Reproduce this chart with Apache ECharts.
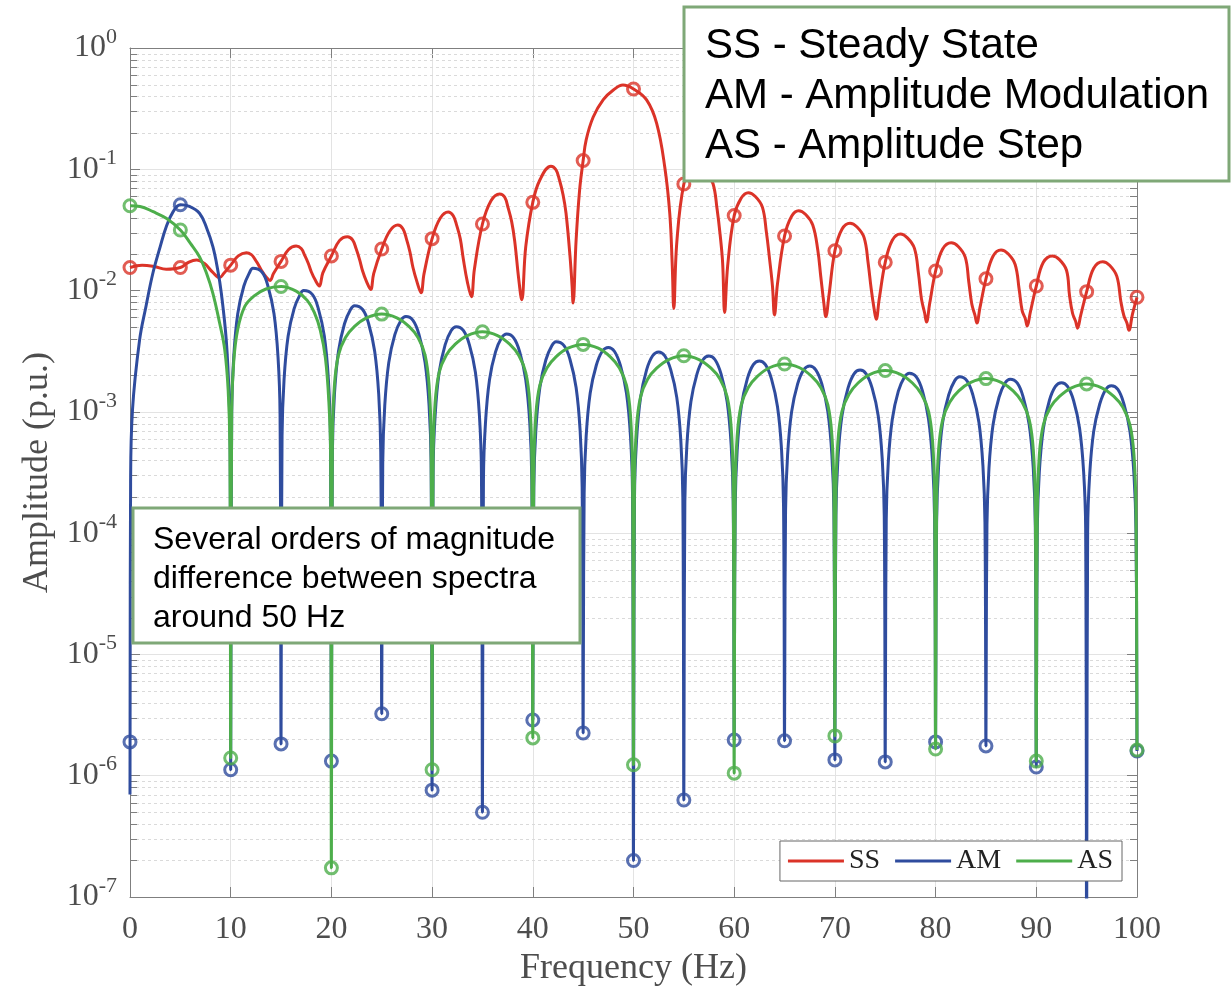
<!DOCTYPE html>
<html>
<head>
<meta charset="utf-8">
<script src="https://cdn.jsdelivr.net/npm/echarts@6.0.0/dist/echarts.min.js"></script>
<style>
  html, body { margin: 0; padding: 0; background: #fff; }
  #chart { width: 1231px; height: 986px; }
</style>
</head>
<body>
<div id="chart"></div>
<script>
// spectra: [frequency Hz, amplitude p.u.]
const ssLine = [
  [0,0.0155],[1.2,0.0162],[2.4,0.0158],[3.6,0.0150],[5,0.0155],[5.8,0.0171],[6.6,0.0179],[7.4,0.0167],[8.2,0.0142],[8.9,0.0128],
  [9.3,0.0138],[10,0.0162],[10.75,0.0193],[11.55,0.0205],[12.05,0.0198],[12.4,0.0182],[12.75,0.0163],[13.1,0.0145],[13.5,0.0130],[13.9,0.0121],
  [14.25,0.0138],[15,0.0174],[15.75,0.0218],[16.5,0.0233],[17.0,0.0222],[17.35,0.0195],[17.7,0.0168],[18.0,0.0143],[18.4,0.0122],[18.8,0.0109],
  [19.15,0.0140],[20,0.0193],[20.8,0.0258],[21.6,0.0278],[22.1,0.0262],[22.45,0.0222],[22.8,0.0180],[23.1,0.0145],[23.5,0.0118],[23.9,0.0102],
  [24.2,0.0138],[25,0.0220],[25.8,0.0310],[26.6,0.0347],[27.1,0.0323],[27.45,0.0267],[27.8,0.0208],[28.1,0.0155],[28.5,0.0118],[28.9,0.0096],
  [29.2,0.0138],[30,0.0268],[30.8,0.0395],[31.6,0.0445],[32.1,0.0414],[32.45,0.0343],[32.8,0.0267],[33.1,0.0182],[33.5,0.0118],[33.9,0.0089],
  [34.2,0.0150],[35,0.0354],[35.85,0.0550],[36.7,0.0626],[37.2,0.0590],[37.55,0.0480],[37.9,0.0370],[38.2,0.0257],[38.6,0.0125],[38.9,0.0084],
  [39.3,0.0230],[40,0.0534],[40.7,0.0816],[41.8,0.106],[42.3,0.099],[42.65,0.0816],[43.0,0.062],[43.3,0.0434],[43.7,0.0190],[43.9,0.0110],[44,0.0079],
  [44.3,0.026],[44.65,0.0675],[45,0.118],[45.3,0.175],[46,0.27],[47,0.375],[48,0.45],[48.95,0.495],[50,0.459],[51.3,0.373],[52.3,0.239],[53.1,0.105],[53.6,0.0434],[53.85,0.0160],[54,0.0071],
  [54.3,0.025],[55,0.0757],[55.7,0.095],[56.6,0.100],[57.25,0.093],[57.9,0.076],[58.3,0.047],[58.6,0.029],[58.85,0.017],[59.05,0.0066],
  [59.35,0.016],[60,0.0415],[60.7,0.058],[61.4,0.0642],[62.1,0.0597],[62.8,0.0488],[63.2,0.0302],[63.5,0.0186],[63.8,0.0109],[64,0.0063],
  [64.3,0.0114],[65,0.0282],[65.7,0.041],[66.4,0.0456],[67.1,0.0424],[67.8,0.0347],[68.3,0.0216],[68.6,0.013],[68.9,0.0079],[69.1,0.0061],
  [69.4,0.009],[70,0.0213],[70.7,0.032],[71.5,0.0359],[72.2,0.0334],[72.9,0.0273],[73.3,0.0169],[73.6,0.0104],[73.9,0.0070],[74.1,0.0058],
  [74.4,0.0085],[75,0.0171],[75.7,0.026],[76.5,0.0293],[77.2,0.0272],[77.9,0.0223],[78.3,0.0138],[78.6,0.0085],[78.9,0.0066],[79.1,0.0055],
  [79.4,0.0077],[80,0.0145],[80.7,0.022],[81.55,0.0248],[82.25,0.0231],[82.95,0.0188],[83.3,0.0117],[83.6,0.0077],[83.9,0.0063],[84.1,0.0054],
  [84.4,0.0072],[85,0.0125],[85.7,0.0192],[86.5,0.0216],[87.2,0.0201],[87.9,0.0164],[88.3,0.0102],[88.6,0.0068],[88.9,0.0059],[89.1,0.0051],
  [89.4,0.0066],[90,0.0109],[90.7,0.0171],[91.6,0.0193],[92.3,0.018],[93.0,0.0147],[93.3,0.0091],[93.6,0.0065],[93.9,0.0056],[94.1,0.0049],
  [94.4,0.0062],[95,0.0098],[95.7,0.0153],[96.6,0.0173],[97.3,0.0161],[98.0,0.0131],[98.4,0.0081],[98.7,0.0062],[99.0,0.0054],[99.2,0.0047],
  [99.55,0.0064],[100,0.0088]
];

const amLine = [
  [0,7e-7],[0.06,2.6e-4],[0.25,1.05e-3],[0.95,3.9e-3],[1.6,7.5e-3],[2.27,0.0139],[3,0.023],[3.6,0.0336],[4.3,0.045],[5,0.051],[5.9,0.0495],[6.9,0.0434],[7.6,0.033],[8.23,0.023],[8.7,0.015],[9.07,0.0095],[9.56,0.0039],[9.85,1.3e-3],[9.95,4.5e-4],
  [10,1.12e-6],[10.1,9.6e-4],[10.3,2.83e-3],[10.7,6.43e-3],[11.3,0.01086],[11.9,0.01423],[12.2,0.0153],[13.1,0.01423],[13.7,0.01086],[14.3,6.43e-3],[14.7,2.83e-3],[14.9,9.6e-4],
  [15,1.83e-6],[15.1,6.3e-4],[15.3,1.85e-3],[15.7,4.2e-3],[16.3,7.1e-3],[16.9,9.3e-3],[17.24,0.01],[18.1,9.3e-3],[18.7,7.1e-3],[19.3,4.2e-3],[19.7,1.85e-3],[19.9,6.3e-4],
  [20,1.32e-6],[20.1,4.7e-4],[20.3,1.39e-3],[20.7,3.15e-3],[21.3,5.33e-3],[21.9,6.98e-3],[22.3,7.5e-3],[23.1,6.98e-3],[23.7,5.33e-3],[24.3,3.15e-3],[24.7,1.39e-3],[24.9,4.7e-4],
  [25,3.24e-6],[25.1,3.84e-4],[25.3,1.13e-3],[25.7,2.56e-3],[26.3,4.33e-3],[26.9,5.67e-3],[27.4,6.1e-3],[28.1,5.67e-3],[28.7,4.33e-3],[29.3,2.56e-3],[29.7,1.13e-3],[29.9,3.84e-4],
  [30,7.6e-7],[30.1,3.18e-4],[30.3,9.3e-4],[30.7,2.12e-3],[31.3,3.58e-3],[31.9,4.69e-3],[32.4,5.04e-3],[33.1,4.69e-3],[33.7,3.58e-3],[34.3,2.12e-3],[34.7,9.3e-4],[34.9,3.18e-4],
  [35,5e-7],[35.1,2.77e-4],[35.3,8.1e-4],[35.7,1.84e-3],[36.3,3.12e-3],[36.9,4.08e-3],[37.4,4.39e-3],[38.1,4.08e-3],[38.7,3.12e-3],[39.3,1.84e-3],[39.7,8.1e-4],[39.9,2.77e-4],
  [40,2.88e-6],[40.1,2.39e-4],[40.3,7e-4],[40.7,1.59e-3],[41.3,2.69e-3],[41.9,3.52e-3],[42.3,3.79e-3],[43.1,3.52e-3],[43.7,2.69e-3],[44.3,1.59e-3],[44.7,7e-4],[44.9,2.39e-4],
  [45,2.25e-6],[45.1,2.14e-4],[45.3,6.3e-4],[45.7,1.43e-3],[46.3,2.41e-3],[46.9,3.16e-3],[47.5,3.4e-3],[48.1,3.16e-3],[48.7,2.41e-3],[49.3,1.43e-3],[49.7,6.3e-4],[49.9,2.14e-4],
  [50,2e-7],[50.1,1.97e-4],[50.3,5.8e-4],[50.7,1.31e-3],[51.3,2.22e-3],[51.9,2.9e-3],[52.5,3.12e-3],[53.1,2.9e-3],[53.7,2.22e-3],[54.3,1.31e-3],[54.7,5.8e-4],[54.9,1.97e-4],
  [55,6.3e-7],[55.1,1.82e-4],[55.3,5.3e-4],[55.7,1.21e-3],[56.3,2.05e-3],[56.9,2.69e-3],[57.5,2.89e-3],[58.1,2.69e-3],[58.7,2.05e-3],[59.3,1.21e-3],[59.7,5.3e-4],[59.9,1.82e-4],
  [60,1.97e-6],[60.1,1.66e-4],[60.3,4.9e-4],[60.7,1.1e-3],[61.3,1.87e-3],[61.9,2.45e-3],[62.5,2.63e-3],[63.1,2.45e-3],[63.7,1.87e-3],[64.3,1.1e-3],[64.7,4.9e-4],[64.9,1.66e-4],
  [65,1.94e-6],[65.1,1.51e-4],[65.3,4.4e-4],[65.7,1e-3],[66.3,1.7e-3],[66.9,2.22e-3],[67.5,2.39e-3],[68.1,2.22e-3],[68.7,1.7e-3],[69.3,1e-3],[69.7,4.4e-4],[69.9,1.51e-4],
  [70,1.35e-6],[70.1,1.39e-4],[70.3,4.1e-4],[70.7,9.3e-4],[71.3,1.57e-3],[71.9,2.06e-3],[72.5,2.21e-3],[73.1,2.06e-3],[73.7,1.57e-3],[74.3,9.3e-4],[74.7,4.1e-4],[74.9,1.39e-4],
  [75,1.3e-6],[75.1,1.31e-4],[75.3,3.85e-4],[75.7,8.7e-4],[76.3,1.48e-3],[76.9,1.93e-3],[77.4,2.08e-3],[78.1,1.93e-3],[78.7,1.48e-3],[79.3,8.7e-4],[79.7,3.85e-4],[79.9,1.31e-4],
  [80,1.9e-6],[80.1,1.23e-4],[80.3,3.6e-4],[80.7,8.2e-4],[81.3,1.38e-3],[81.9,1.81e-3],[82.4,1.95e-3],[83.1,1.81e-3],[83.7,1.38e-3],[84.3,8.2e-4],[84.7,3.6e-4],[84.9,1.23e-4],
  [85,1.76e-6],[85.1,1.17e-4],[85.3,3.44e-4],[85.7,7.8e-4],[86.3,1.32e-3],[86.9,1.73e-3],[87.4,1.86e-3],[88.1,1.73e-3],[88.7,1.32e-3],[89.3,7.8e-4],[89.7,3.44e-4],[89.9,1.17e-4],
  [90,1.18e-6],[90.1,1.1e-4],[90.3,3.2e-4],[90.7,7.3e-4],[91.3,1.24e-3],[91.9,1.62e-3],[92.5,1.74e-3],[93.1,1.62e-3],[93.7,1.24e-3],[94.3,7.3e-4],[94.7,3.2e-4],[94.9,1.1e-4],
  [95,3e-8],[95.1,1.03e-4],[95.3,3.03e-4],[95.7,6.9e-4],[96.3,1.16e-3],[96.9,1.53e-3],[97.45,1.64e-3],[98.1,1.53e-3],[98.7,1.16e-3],[99.3,6.9e-4],[99.7,3.03e-4],[99.9,1.03e-4],
  [100,1.6e-6]
];

const asLine = [
  [0,0.05],[1,0.0493],[2.3,0.0447],[3.6,0.0394],[5,0.0316],[6,0.0245],[6.9,0.019],[7.6,0.0139],[8.23,0.0095],[8.9,0.0054],[9.4,0.0033],[9.75,0.0015],[9.92,5e-4],
  [10,1.4e-6],[10.1,1e-3],[10.3,2.6e-3],[10.7,4.8e-3],[11.4,7.4e-3],[12.3,9e-3],[13.5,0.0103],[15,0.0108],[16.5,0.0099],[17.6,0.0083],[18.3,0.0066],[18.9,0.0047],[19.4,0.0028],[19.75,1.2e-3],[19.92,4.5e-4],
  [20,1.74e-7],[20.1,5.8e-4],[20.3,1.66e-3],[20.7,2.94e-3],[21.4,4.1e-3],[22.3,5.06e-3],[23.5,5.95e-3],[25,6.4e-3],[26.5,5.95e-3],[27.7,5.06e-3],[28.6,4.1e-3],[29.3,2.94e-3],[29.7,1.66e-3],[29.9,5.8e-4],
  [30,1.12e-6],[30.1,4.1e-4],[30.3,1.19e-3],[30.7,2.11e-3],[31.4,2.93e-3],[32.3,3.62e-3],[33.5,4.26e-3],[35,4.58e-3],[36.5,4.26e-3],[37.7,3.62e-3],[38.6,2.93e-3],[39.3,2.11e-3],[39.7,1.19e-3],[39.9,4.1e-4],
  [40,2.05e-6],[40.1,3.2e-4],[40.3,9.4e-4],[40.7,1.66e-3],[41.4,2.3e-3],[42.3,2.84e-3],[43.5,3.35e-3],[45,3.6e-3],[46.5,3.35e-3],[47.7,2.84e-3],[48.6,2.3e-3],[49.3,1.66e-3],[49.7,9.4e-4],[49.9,3.2e-4],
  [50,1.23e-6],[50.1,2.6e-4],[50.3,7.5e-4],[50.7,1.33e-3],[51.4,1.86e-3],[52.3,2.29e-3],[53.5,2.7e-3],[55,2.9e-3],[56.5,2.7e-3],[57.7,2.29e-3],[58.6,1.86e-3],[59.3,1.33e-3],[59.7,7.5e-4],[59.9,2.6e-4],
  [60,1.05e-6],[60.1,2.2e-4],[60.3,6.4e-4],[60.7,1.14e-3],[61.4,1.59e-3],[62.3,1.96e-3],[63.5,2.31e-3],[65,2.48e-3],[66.5,2.31e-3],[67.7,1.96e-3],[68.6,1.59e-3],[69.3,1.14e-3],[69.7,6.4e-4],[69.9,2.2e-4],
  [70,2.13e-6],[70.1,2e-4],[70.3,5.7e-4],[70.7,1.01e-3],[71.4,1.4e-3],[72.3,1.73e-3],[73.5,2.04e-3],[75,2.19e-3],[76.5,2.04e-3],[77.7,1.73e-3],[78.6,1.4e-3],[79.3,1.01e-3],[79.7,5.7e-4],[79.9,2e-4],
  [80,1.66e-6],[80.1,1.7e-4],[80.3,4.9e-4],[80.7,8.6e-4],[81.4,1.2e-3],[82.3,1.49e-3],[83.5,1.75e-3],[85,1.88e-3],[86.5,1.75e-3],[87.7,1.49e-3],[88.6,1.2e-3],[89.3,8.6e-4],[89.7,4.9e-4],[89.9,1.7e-4],
  [90,1.32e-6],[90.1,1.5e-4],[90.3,4.4e-4],[90.7,7.8e-4],[91.4,1.09e-3],[92.3,1.34e-3],[93.5,1.58e-3],[95,1.7e-3],[96.5,1.58e-3],[97.7,1.34e-3],[98.6,1.09e-3],[99.3,7.8e-4],[99.7,4.4e-4],[99.9,1.5e-4],
  [100,1.63e-6]
];

// circle markers every 5 Hz
const markFreq = [0,5,10,15,20,25,30,35,40,45,50,55,60,65,70,75,80,85,90,95,100];
const ssMarks = [0.0155,0.0155,0.0162,0.0174,0.0193,0.022,0.0268,0.0354,0.0534,0.118,0.459,0.0757,0.0415,0.0282,0.0213,0.0171,0.0145,0.0125,0.0109,0.0098,0.0088];
const amMarks = [1.9e-6,0.051,1.12e-6,1.83e-6,1.32e-6,3.24e-6,7.6e-7,5e-7,2.88e-6,2.25e-6,2e-7,6.3e-7,1.97e-6,1.94e-6,1.35e-6,1.3e-6,1.9e-6,1.76e-6,1.18e-6,null,1.6e-6];
const asMarks = [0.05,0.0316,1.4e-6,0.0108,1.74e-7,0.0064,1.12e-6,0.00458,2.05e-6,0.0036,1.23e-6,0.0029,1.05e-6,0.00248,2.13e-6,0.00219,1.66e-6,0.00188,1.32e-6,0.0017,1.63e-6];

const seriesNames = ['SS', 'AM', 'AS'];
const seriesColors = ['#DB3328', '#2F4C9E', '#4DAE4B'];

// minor ticks of the log axis: 2..9 in every decade
const decades = [1e-7, 1e-6, 1e-5, 1e-4, 1e-3, 1e-2, 1e-1];
const minorSteps = [2, 3, 4, 5, 6, 7, 8, 9];
const minorTicks = [];
decades.forEach(d => minorSteps.forEach(m => minorTicks.push([0, d * m])));

const box1Lines = ['SS - Steady State', 'AM - Amplitude Modulation', 'AS - Amplitude Step'];
const box2Lines = ['Several orders of magnitude', 'difference between spectra', 'around 50 Hz'];

const serif = '"Liberation Serif", "Times New Roman", serif';
const sans = '"Liberation Sans", Arial, sans-serif';
const axisGray = '#7f7f7f';
const textGray = '#4d4d4d';

function lineSeries(i, data) {
  return {
    name: seriesNames[i], type: 'line', data: data,
    smooth: 0.4, symbol: 'none',
    lineStyle: { color: seriesColors[i], width: 3 },
    itemStyle: { color: seriesColors[i] },
    z: 3 + i * 2
  };
}

function markSeries(i, values) {
  return {
    name: seriesNames[i] + ' marks', type: 'scatter',
    data: markFreq.map((f, k) => [f, values[k]]),
    symbol: 'circle', symbolSize: 12, clip: false, silent: true,
    itemStyle: { color: 'rgba(0,0,0,0)', borderColor: seriesColors[i], borderWidth: 3 },
    z: 4 + i * 2
  };
}

const chart = echarts.init(document.getElementById('chart'));

chart.setOption({
  animation: false,
  backgroundColor: '#fff',
  grid: { left: 130, right: 94, top: 48, bottom: 89, outerBoundsMode: 'none' },
  legend: {
    data: seriesNames,
    icon: 'rect',
    right: 109, bottom: 105,
    itemWidth: 56, itemHeight: 3, itemGap: 15,
    padding: [6, 9, 6, 8],
    backgroundColor: '#fff', borderColor: '#666', borderWidth: 1,
    textStyle: { fontFamily: serif, fontSize: 28, color: '#222' },
    z: 20
  },
  xAxis: [{
    type: 'value', min: 0, max: 100, interval: 10, position: 'bottom',
    name: 'Frequency (Hz)', nameLocation: 'middle', nameGap: 51,
    nameTextStyle: { fontFamily: serif, fontSize: 36, color: textGray },
    axisLine: { onZero: false, lineStyle: { color: axisGray } },
    axisTick: { inside: true, length: 10, lineStyle: { color: axisGray } },
    axisLabel: { fontFamily: serif, fontSize: 32, color: textGray, margin: 17 },
    splitLine: { lineStyle: { color: '#e3e3e3' } }
  }, {
    type: 'value', min: 0, max: 100, interval: 10, position: 'top',
    axisLine: { onZero: false, lineStyle: { color: axisGray } },
    axisTick: { inside: true, length: 10, lineStyle: { color: axisGray } },
    axisLabel: { show: false }, splitLine: { show: false }
  }],
  yAxis: [{
    type: 'log', logBase: 10, min: 1e-7, max: 1, splitNumber: 7,
    name: 'Amplitude (p.u.)', nameLocation: 'middle', nameGap: 64,
    nameTextStyle: { fontFamily: serif, fontSize: 36, color: textGray },
    axisLine: { show: true, onZero: false, lineStyle: { color: axisGray } },
    axisTick: { inside: true, length: 10, lineStyle: { color: axisGray } },
    axisLabel: {
      margin: 13,
      formatter: v => '{b|10}{e|' + Math.round(Math.log10(v)) + '}',
      rich: {
        b: { fontFamily: serif, fontSize: 32, color: textGray, lineHeight: 44 },
        e: { fontFamily: serif, fontSize: 22, color: textGray, verticalAlign: 'top', lineHeight: 22 }
      }
    },
    splitLine: { lineStyle: { color: '#e3e3e3' } }
  }, {
    type: 'log', logBase: 10, min: 1e-7, max: 1, splitNumber: 7, position: 'right',
    axisLine: { show: true, onZero: false, lineStyle: { color: axisGray } },
    axisTick: { inside: true, length: 10, lineStyle: { color: axisGray } },
    axisLabel: { show: false }, splitLine: { show: false }
  }],
  series: [
    {
      name: 'minor', type: 'custom', silent: true, z: 1,
      data: minorTicks,
      renderItem: function (params, api) {
        const cs = params.coordSys;
        const y = Math.round(api.coord([0, api.value(1)])[1]) + 0.5;
        return {
          type: 'group',
          children: [
            { type: 'line', shape: { x1: cs.x, y1: y, x2: cs.x + cs.width, y2: y },
              style: { stroke: '#dadada', lineWidth: 1, lineDash: [3, 3] } },
            { type: 'line', shape: { x1: cs.x, y1: y, x2: cs.x + 7, y2: y },
              style: { stroke: axisGray, lineWidth: 1 } },
            { type: 'line', shape: { x1: cs.x + cs.width - 7, y1: y, x2: cs.x + cs.width, y2: y },
              style: { stroke: axisGray, lineWidth: 1 } }
          ]
        };
      }
    },
    lineSeries(0, ssLine), markSeries(0, ssMarks),
    lineSeries(1, amLine), markSeries(1, amMarks),
    lineSeries(2, asLine), markSeries(2, asMarks)
  ],
  graphic: [
    { type: 'rect', z: 100, shape: { x: 684, y: 7, width: 545, height: 174 },
      style: { fill: '#fff', stroke: '#7FA877', lineWidth: 3 } },
    { type: 'text', z: 101, x: 705, y: 21,
      style: { text: box1Lines.join('\n'), font: '42px ' + sans, fill: '#000', lineHeight: 50 } },
    { type: 'rect', z: 100, shape: { x: 133, y: 508, width: 447, height: 135 },
      style: { fill: '#fff', stroke: '#7FA877', lineWidth: 3 } },
    { type: 'text', z: 101, x: 153, y: 521,
      style: { text: box2Lines.join('\n'), font: '32px ' + sans, fill: '#000', lineHeight: 39 } }
  ]
});
</script>
</body>
</html>
